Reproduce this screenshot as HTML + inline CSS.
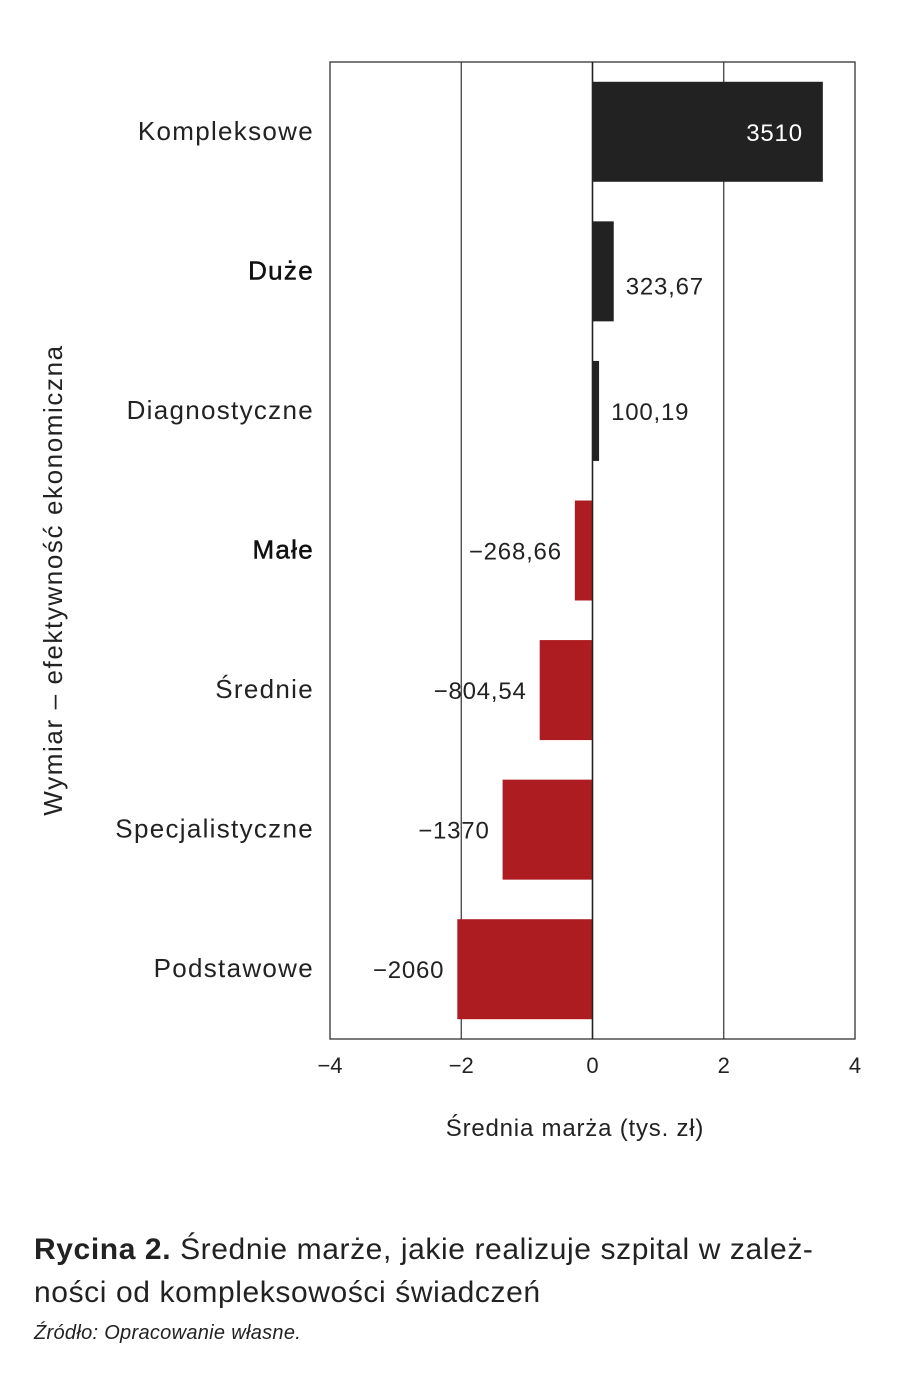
<!DOCTYPE html>
<html><head><meta charset="utf-8">
<style>
body{margin:0;background:#fff;width:900px;height:1391px;overflow:hidden;font-family:"Liberation Sans",sans-serif;}
.cap{position:absolute;left:34px;top:1228px;font-size:30px;line-height:43px;color:#222;width:880px;letter-spacing:0.6px;white-space:nowrap;}
.src{position:absolute;left:34px;top:1322px;font-size:20px;font-style:italic;color:#222;letter-spacing:0.3px;}
</style></head><body>
<svg id="chart" width="900" height="1200" style="position:absolute;left:0;top:0" font-family="Liberation Sans, sans-serif"></svg>
<div class="cap"><b>Rycina 2.</b> Średnie marże, jakie realizuje szpital w zależ-<br>ności od kompleksowości świadczeń</div>
<div class="src">Źródło: Opracowanie własne.</div>
<script>
const categories=["Kompleksowe","Duże","Diagnostyczne","Małe","Średnie","Specjalistyczne","Podstawowe"];
const values=[3510,323.67,100.19,-268.66,-804.54,-1370,-2060];
const valueLabels=["3510","323,67","100,19","−268,66","−804,54","−1370","−2060"];
const ticks=[-4,-2,0,2,4];
const tickLabels=["−4","−2","0","2","4"];
const NS="http://www.w3.org/2000/svg";
const svg=document.getElementById('chart');
const L=330,R=855,T=62,B=1039;
const x=v=>L+(v/1000+4)/8*(R-L);
const band=(B-T)/categories.length;
const yc=i=>T+band*(i+0.5);
function mk(t,a,txt){const e=document.createElementNS(NS,t);for(const k in a)e.setAttribute(k,a[k]);if(txt!=null)e.textContent=txt;svg.appendChild(e);return e;}
let f=mk('rect',{x:L,y:T,width:R-L,height:B-T,fill:'none',stroke:'#333','stroke-width':1.3});


ticks.forEach((t,i)=>{
 if(t>-4&&t<4){const g=mk('line',{x1:x(t*1000),x2:x(t*1000),y1:T,y2:B,stroke:'#333','stroke-width':1.2});
 
 }
 const tl=mk('text',{x:x(t*1000),y:1073,'text-anchor':'middle','font-size':22,fill:'#222'},tickLabels[i]);
 
 
});
categories.forEach((c,i)=>{
 const v=values[i],c0=yc(i);
 const x0=Math.min(x(0),x(v)),w=Math.abs(x(v)-x(0));
 const b=mk('rect',{x:x0,y:c0-50,width:w,height:100,fill:v>=0?'#222222':'#ad1c20'});
 
 
 const bold=(c==="Duże"||c==="Małe");
 const cl=mk('text',{x:314,y:c0+8,'text-anchor':'end','font-size':26,fill:bold?'#111':'#222','letter-spacing':1.3,stroke:bold?'#111':'none','stroke-width':0.5},c);
 
 
 let lx,anchor,fill='#222';
 if(i===0){lx=x(v)-20;anchor='end';fill='#fff';}
 else if(v>=0){lx=x(v)+12;anchor='start';}
 else{lx=x(v)-13;anchor='end';}
 const vl=mk('text',{x:lx,y:c0+9+(i===1?14:0),'text-anchor':anchor,'font-size':24,fill:fill,'letter-spacing':0.8},valueLabels[i]);
 
 
});
const za=mk('line',{x1:x(0),x2:x(0),y1:T,y2:B,stroke:'#222','stroke-width':1.5});


const xt=mk('text',{x:575,y:1136,'text-anchor':'middle','font-size':24,fill:'#222','letter-spacing':0.8},'Średnia marża (tys. zł)');


const yt=mk('text',{x:0,y:0,'text-anchor':'middle','font-size':26,fill:'#222','letter-spacing':1.6,transform:'translate(62,580) rotate(-90)'},'Wymiar – efektywność ekonomiczna');


</script>
</body></html>
